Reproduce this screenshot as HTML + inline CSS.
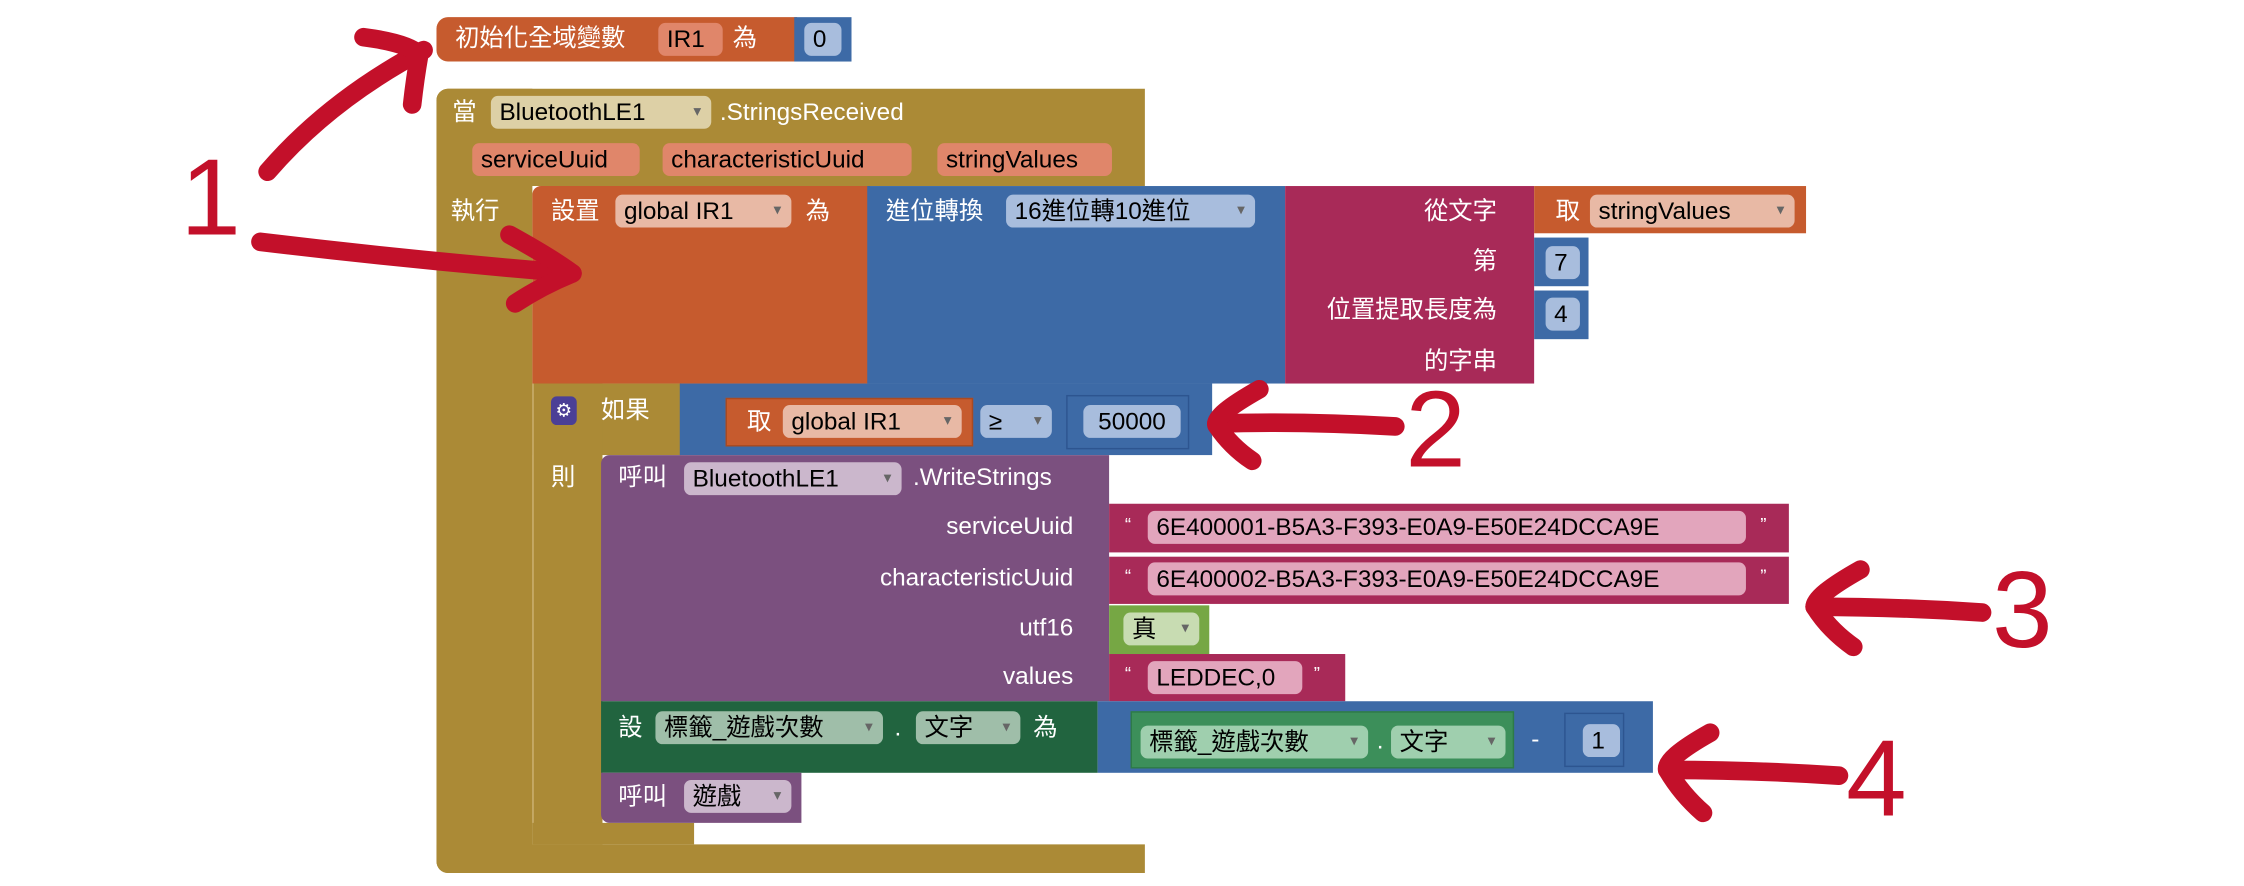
<!DOCTYPE html>
<html><head><meta charset="utf-8"><style>
html,body{margin:0;padding:0;background:#fff;width:2244px;height:886px;overflow:hidden}
#s{position:absolute;left:0;top:0;width:1568px;height:619px;transform:scale(1.4311);transform-origin:0 0;font-family:"Liberation Sans","Noto Sans CJK TC",sans-serif;font-size:17px}
.b{position:absolute}
.t{position:absolute;color:#fff;line-height:22px;white-space:nowrap}
.p{position:absolute;height:23px;line-height:23px;border-radius:5px;color:#000;white-space:nowrap;padding:0 6px;box-sizing:border-box}
.dd:after{content:"▾";font-size:11px;position:absolute;right:7px;top:0;color:#666}
.r{text-align:right}
</style></head><body><div id="s">
<!-- init -->
<div class="b" style="left:305px;top:12px;width:252px;height:31px;background:#c65b2e;border-radius:8px 0 0 8px"></div>
<div class="b" style="left:555px;top:12px;width:40px;height:31px;background:#3d6aa6"></div>
<div class="t" style="left:318px;top:16px">初始化全域變數</div>
<div class="p" style="left:460px;top:16px;width:45px;background:#e0866a">IR1</div>
<div class="t" style="left:512px;top:16px">為</div>
<div class="p" style="left:562px;top:16px;width:26px;background:#a8bddd">0</div>

<!-- event gold -->
<div class="b" style="left:305px;top:62px;width:495px;height:68px;background:#ab8a36;border-radius:8px 0 0 0"></div>
<div class="b" style="left:305px;top:62px;width:67px;height:548px;background:#ab8a36;border-radius:8px 0 0 8px"></div>
<div class="b" style="left:305px;top:590px;width:495px;height:20px;background:#ab8a36;border-radius:0 0 0 8px"></div>
<div class="t" style="left:316px;top:68px">當</div>
<div class="p dd" style="left:343px;top:67px;width:154px;padding-right:20px;background:#ddd0a6">BluetoothLE1</div>
<div class="t" style="left:503px;top:68px">.StringsReceived</div>
<div class="p" style="left:330px;top:100px;width:117px;background:#e0866a">serviceUuid</div>
<div class="p" style="left:463px;top:100px;width:174px;background:#e0866a">characteristicUuid</div>
<div class="p" style="left:655px;top:100px;width:122px;background:#e0866a">stringValues</div>
<div class="t" style="left:315px;top:137px">執行</div>

<!-- set global -->
<div class="b" style="left:372px;top:130px;width:236px;height:138px;background:#c65b2e;border-radius:6px 0 0 0"></div>
<div class="t" style="left:385px;top:137px">設置</div>
<div class="p dd" style="left:430px;top:136px;width:123px;padding-right:20px;background:#e8b9a5">global IR1</div>
<div class="t" style="left:563px;top:137px">為</div>
<div class="b" style="left:606px;top:130px;width:292px;height:138px;background:#3d6aa6"></div>
<div class="t" style="left:619px;top:137px">進位轉換</div>
<div class="p dd" style="left:703px;top:136px;width:174px;padding-right:20px;background:#a8bddd">16進位轉10進位</div>
<div class="b" style="left:898px;top:130px;width:174px;height:138px;background:#a82a58"></div>
<div class="t r" style="left:900px;top:137px;width:146px">從文字</div>
<div class="t r" style="left:900px;top:172px;width:146px">第</div>
<div class="t r" style="left:900px;top:206px;width:146px">位置提取長度為</div>
<div class="t r" style="left:900px;top:242px;width:146px">的字串</div>
<div class="b" style="left:1072px;top:130px;width:190px;height:33px;background:#c65b2e"></div>
<div class="t" style="left:1087px;top:137px">取</div>
<div class="p dd" style="left:1111px;top:136px;width:143px;padding-right:20px;background:#e8b9a5">stringValues</div>
<div class="b" style="left:1072px;top:166px;width:38px;height:34px;background:#3d6aa6"></div>
<div class="p" style="left:1080px;top:172px;width:24px;background:#a8bddd">7</div>
<div class="b" style="left:1072px;top:203px;width:38px;height:34px;background:#3d6aa6"></div>
<div class="p" style="left:1080px;top:208px;width:24px;background:#a8bddd">4</div>

<!-- if block -->
<div class="b" style="left:372px;top:268px;width:104px;height:50px;background:#ab8a36"></div>
<div class="b" style="left:372px;top:268px;width:48px;height:322px;background:#ab8a36;border-left:1px solid #c9ad6a"></div>
<div class="b" style="left:372px;top:575px;width:113px;height:15px;background:#ab8a36"></div>
<div class="b" style="left:385px;top:277px;width:18px;height:20px;background:#4b3f96;border-radius:4px;color:#fff;font-size:13px;text-align:center;line-height:20px">⚙</div>
<div class="t" style="left:420px;top:276px">如果</div>
<div class="t" style="left:385px;top:323px">則</div>
<div class="b" style="left:475px;top:268px;width:372px;height:50px;background:#3d6aa6"></div>
<div class="b" style="left:507px;top:278px;width:173px;height:34px;background:#c65b2e;border:1px solid #a84a22;box-sizing:border-box"></div>
<div class="t" style="left:522px;top:284px">取</div>
<div class="p dd" style="left:547px;top:283px;width:125px;padding-right:20px;background:#e8b9a5">global IR1</div>
<div class="p dd" style="left:685px;top:283px;width:50px;padding-right:20px;background:#a8bddd">≥</div>
<div class="b" style="left:745px;top:276px;width:86px;height:38px;background:#3d6aa6;border:1px solid #2d5590;box-sizing:border-box"></div>
<div class="p" style="left:757px;top:283px;width:68px;background:#a8bddd;text-align:center">50000</div>

<!-- call WriteStrings -->
<div class="b" style="left:420px;top:318px;width:355px;height:172px;background:#7b507f;border-radius:6px 0 0 0"></div>
<div class="t" style="left:432px;top:323px">呼叫</div>
<div class="p dd" style="left:478px;top:323px;width:152px;padding-right:20px;background:#cbb7cc">BluetoothLE1</div>
<div class="t" style="left:638px;top:323px">.WriteStrings</div>
<div class="t r" style="left:560px;top:357px;width:190px">serviceUuid</div>
<div class="t r" style="left:560px;top:393px;width:190px">characteristicUuid</div>
<div class="t r" style="left:560px;top:428px;width:190px">utf16</div>
<div class="t r" style="left:560px;top:462px;width:190px">values</div>
<div class="b" style="left:775px;top:352px;width:475px;height:34px;background:#a82a58"></div>
<div class="t" style="left:786px;top:356px;font-size:13px">“</div>
<div class="p" style="left:802px;top:357px;width:418px;background:#e2a5bc">6E400001-B5A3-F393-E0A9-E50E24DCCA9E</div>
<div class="t" style="left:1230px;top:356px;font-size:13px">”</div>
<div class="b" style="left:775px;top:389px;width:475px;height:33px;background:#a82a58"></div>
<div class="t" style="left:786px;top:392px;font-size:13px">“</div>
<div class="p" style="left:802px;top:393px;width:418px;background:#e2a5bc">6E400002-B5A3-F393-E0A9-E50E24DCCA9E</div>
<div class="t" style="left:1230px;top:392px;font-size:13px">”</div>
<div class="b" style="left:775px;top:423px;width:70px;height:34px;background:#76a744"></div>
<div class="p dd" style="left:785px;top:428px;width:53px;padding-right:20px;background:#c8dcb2">真</div>
<div class="b" style="left:775px;top:457px;width:165px;height:33px;background:#a82a58"></div>
<div class="t" style="left:786px;top:460px;font-size:13px">“</div>
<div class="p" style="left:802px;top:462px;width:108px;background:#e2a5bc">LEDDEC,0</div>
<div class="t" style="left:918px;top:460px;font-size:13px">”</div>

<!-- set label -->
<div class="b" style="left:420px;top:490px;width:347px;height:50px;background:#21643f"></div>
<div class="t" style="left:432px;top:498px">設</div>
<div class="p dd" style="left:458px;top:497px;width:159px;padding-right:20px;background:#9fbea9">標籤_遊戲次數</div>
<div class="t" style="left:625px;top:498px">.</div>
<div class="p dd" style="left:640px;top:497px;width:73px;padding-right:20px;background:#9fbea9">文字</div>
<div class="t" style="left:722px;top:498px">為</div>
<div class="b" style="left:767px;top:490px;width:388px;height:50px;background:#3d6aa6"></div>
<div class="b" style="left:790px;top:497px;width:268px;height:40px;background:#3c8f5a;border:1px solid #2d7a48;box-sizing:border-box"></div>
<div class="p dd" style="left:797px;top:507px;width:159px;padding-right:20px;background:#9fcfae">標籤_遊戲次數</div>
<div class="t" style="left:962px;top:507px">.</div>
<div class="p dd" style="left:972px;top:507px;width:80px;padding-right:20px;background:#9fcfae">文字</div>
<div class="t" style="left:1070px;top:506px">-</div>
<div class="b" style="left:1093px;top:498px;width:42px;height:38px;background:#3d6aa6;border:1px solid #2d5590;box-sizing:border-box"></div>
<div class="p" style="left:1106px;top:506px;width:26px;background:#a8bddd">1</div>
<div class="b" style="left:420px;top:540px;width:140px;height:35px;background:#7b507f;border-radius:0 0 0 6px"></div>
<div class="t" style="left:432px;top:546px">呼叫</div>
<div class="p dd" style="left:478px;top:545px;width:75px;padding-right:20px;background:#cbb7cc">遊戲</div>

<!-- arrows -->
<svg class="b" style="left:0;top:0" width="1568" height="619" viewBox="0 0 1568 619">
<g fill="none" stroke="#c3102a" stroke-width="13" stroke-linecap="round" stroke-linejoin="round">
<path d="M187 120 Q230 70 296 35"/><path d="M254 26 Q285 30 293 38 Q290 55 288 73"/>
<path d="M182 169 Q290 182 400 191"/><path d="M356 164 Q385 180 400 191 Q378 200 360 212"/>
<path d="M975 298 Q910 294 850 296"/><path d="M880 272 Q848 290 850 297 Q860 312 875 322"/>
<path d="M1385 428 Q1325 424 1268 424"/><path d="M1300 398 Q1268 416 1268 424 Q1278 440 1295 452"/>
<path d="M1285 542 Q1225 538 1165 538"/><path d="M1195 512 Q1163 530 1165 538 Q1175 555 1190 568"/>
</g>
<g fill="#c3102a" font-family="Liberation Sans, sans-serif" font-size="76">
<text x="126" y="164">1</text><text x="982" y="326">2</text><text x="1392" y="452">3</text><text x="1290" y="570">4</text>
</g>
</svg>
</div></body></html>
